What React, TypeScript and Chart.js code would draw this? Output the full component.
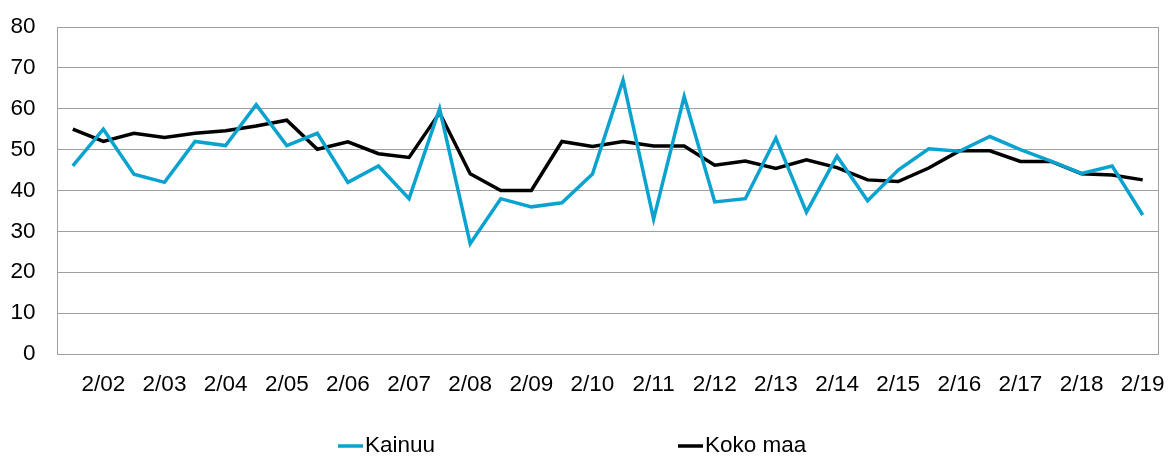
import React, { useEffect, useRef } from "react";
import { Chart, registerables } from "chart.js";

Chart.register(...registerables);

const years = ["02","03","04","05","06","07","08","09","10","11","12","13","14","15","16","17","18","19"];
const categories: string[] = [];
years.forEach((y) => { categories.push("1/" + y); categories.push("2/" + y); });

const kainuu = [46, 55, 44, 42, 52, 51, 61, 51, 54, 42, 46, 38, 60, 27, 38, 36, 37, 44, 67, 33, 63, 37.2, 38, 52.8, 34.7, 48.4, 37.5, 45, 50.2, 49.6, 53.2, 50, 47.2, 44.2, 46, 34];
const kokoMaa = [55, 52, 54, 53, 54, 54.6, 55.8, 57.2, 50.1, 51.9, 49, 48.1, 59, 44.1, 40, 40, 52, 50.8, 52, 50.9, 50.9, 46.2, 47.2, 45.4, 47.5, 45.6, 42.6, 42.2, 45.5, 49.7, 49.7, 47.1, 47.1, 44.1, 43.8, 42.6];

const seriesNames = ["Kainuu", "Koko maa"];
const seriesColors = ["#0aa3cf", "#000000"];

const FONT = '"Liberation Sans", Arial, sans-serif';
const FS = 22.5;

const legendPlugin = {
  id: "bottomLegend",
  afterDraw(chart: any) {
    const ctx = chart.ctx;
    const xs = [338, 678];
    const y = 446;
    ctx.save();
    ctx.font = `${FS}px ${FONT}`;
    ctx.textBaseline = "middle";
    ctx.textAlign = "left";
    chart.data.datasets.forEach((ds: any, i: number) => {
      const x = xs[i];
      ctx.strokeStyle = ds.borderColor;
      ctx.lineWidth = 3.5;
      ctx.beginPath();
      ctx.moveTo(x, y);
      ctx.lineTo(x + 25, y);
      ctx.stroke();
      ctx.fillStyle = "#000";
      ctx.fillText(ds.label, x + 27, y);
    });
    ctx.restore();
  },
};

export default function App() {
  const ref = useRef<HTMLCanvasElement | null>(null);
  useEffect(() => {
    if (!ref.current) return;
    const chart = new Chart(ref.current, {
      type: "line",
      data: {
        labels: categories,
        datasets: [
          { label: seriesNames[0], data: kainuu, borderColor: seriesColors[0], backgroundColor: seriesColors[0], borderWidth: 3.5, pointRadius: 0, tension: 0, borderJoinStyle: "miter" as any },
          { label: seriesNames[1], data: kokoMaa, borderColor: seriesColors[1], backgroundColor: seriesColors[1], borderWidth: 3.5, pointRadius: 0, tension: 0, borderJoinStyle: "miter" as any },
        ],
      },
      options: {
        animation: false,
        responsive: true,
        maintainAspectRatio: false,
        layout: { padding: { left: 10, right: 10, top: 27, bottom: 60.6 } },
        plugins: { legend: { display: false }, tooltip: { enabled: false } },
        scales: {
          x: {
            offset: true,
            grid: { display: false, drawTicks: false },
            border: { display: true, color: "#a0a0a0", width: 1 },
            ticks: {
              autoSkip: false,
              maxRotation: 0,
              padding: 17,
              color: "#000",
              font: { family: FONT, size: FS },
              callback: (_v: any, i: number) => (categories[i].startsWith("2/") ? categories[i] : ""),
            },
            afterFit: (s: any) => { s.height = 43.4; s.paddingLeft = 0; s.paddingRight = 0; },
          },
          y: {
            min: 0,
            max: 80,
            ticks: { stepSize: 10, padding: 22, color: "#000", font: { family: FONT, size: FS } },
            grid: { color: "#a0a0a0", lineWidth: 1, drawTicks: false },
            border: { display: true, color: "#a0a0a0", width: 1 },
            afterFit: (s: any) => { s.width = 47.5; s.paddingTop = 0; s.paddingBottom = 0; },
          },
          y2: {
            position: "right",
            min: 0,
            max: 80,
            ticks: { display: false },
            grid: { drawOnChartArea: false, drawTicks: false },
            border: { display: true, color: "#a0a0a0", width: 1 },
            afterFit: (s: any) => { s.width = 0; s.paddingTop = 0; s.paddingBottom = 0; },
          },
        },
      },
      plugins: [legendPlugin],
    });
    return () => chart.destroy();
  }, []);
  return (
    <div style={{ position: "fixed", left: 0, top: 0, width: 1168, height: 458, background: "#fff" }}>
      <canvas ref={ref} />
    </div>
  );
}
